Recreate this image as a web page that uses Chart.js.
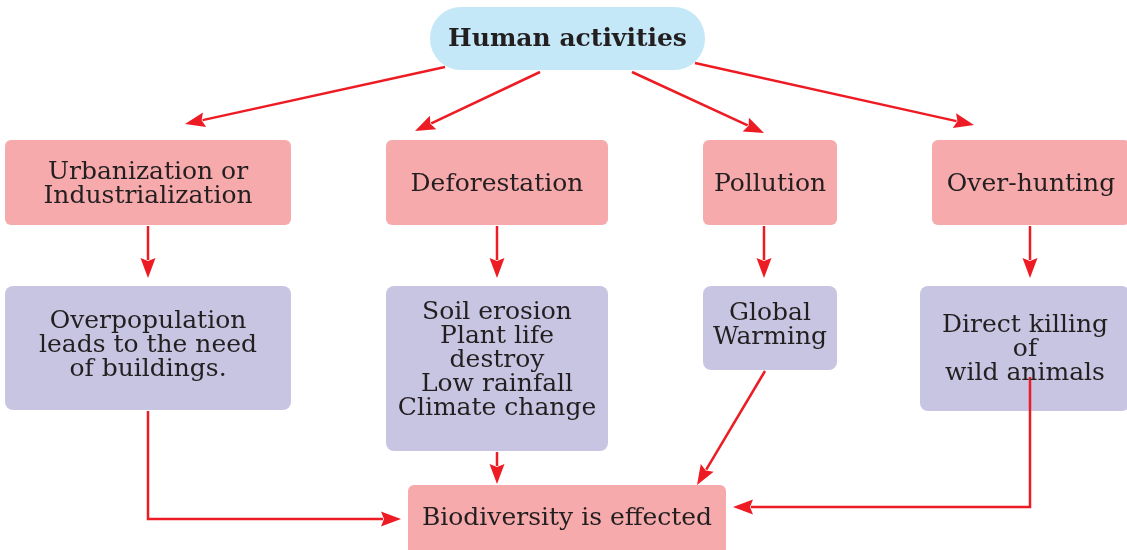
<!DOCTYPE html>
<html>
<head>
<meta charset="utf-8">
<script src="https://cdn.jsdelivr.net/npm/chart.js@4.4.1/dist/chart.umd.min.js"></script>
<style>
  html, body { margin: 0; padding: 0; background: #fff; }
  #wrap { width: 1127px; height: 550px; position: relative; }
</style>
</head>
<body>
<div id="wrap"><canvas id="flow"></canvas></div>
<script>
// Node texts (one entry per box, lines split by \n)
const rootLabel = 'Human activities';
const causeLabels = ['Urbanization or\nIndustrialization', 'Deforestation', 'Pollution', 'Over-hunting'];
const effectLabels = [
    'Overpopulation\nleads to the need\nof buildings.',
    'Soil erosion\nPlant life\ndestroy\nLow rainfall\nClimate change',
    'Global\nWarming',
    'Direct killing\nof\nwild animals'
];
const resultLabel = 'Biodiversity is effected';

// Layout in scale units (x: 0..1127, y: 0..550 top-down)
const causeBoxes = [[5, 140, 291, 225], [386, 140, 608, 225], [703, 140, 837, 225], [932, 140, 1130, 225]];
const effectBoxes = [[5, 286, 291, 410], [386, 286, 608, 451], [703, 286, 837, 370], [920, 286, 1130, 411]];
const rootBox = [430, 7, 705, 70];
const resultBox = [408, 485, 726, 555];

// Arrows as polylines, last segment gets the head
const arrows = [
    [[445, 67], [185, 124]],
    [[540, 72], [415, 131]],
    [[632, 72], [764, 133]],
    [[695, 63], [974, 125]],
    [[148, 226], [148, 278]],
    [[497, 226], [497, 278]],
    [[764, 226], [764, 278]],
    [[1030, 226], [1030, 278]],
    [[497, 452], [497, 484]],
    [[765, 371], [697, 485]],
    [[148, 411], [148, 519], [401, 519]],
    [[1030, 377], [1030, 507], [733, 507]]
];

const pink = '#f6aaac';
const lilac = '#c8c5e2';
const sky = '#c5e8f8';
const red = '#ed1c24';
const ink = '#231f20';

const flowPlugin = {
    id: 'flow',
    afterDatasetsDraw(chart) {
        const ctx = chart.ctx;
        const sx = chart.scales.x, sy = chart.scales.y;
        const px = v => sx.getPixelForValue(v);
        const py = v => sy.getPixelForValue(v);

        function box(b, fill, radius) {
            const x0 = px(b[0]), y0 = py(b[1]), x1 = px(b[2]), y1 = py(b[3]);
            ctx.beginPath();
            ctx.roundRect(x0, y0, x1 - x0, y1 - y0, radius);
            ctx.fillStyle = fill;
            ctx.fill();
        }

        function label(b, text, font, lineH, dy) {
            const cx = (px(b[0]) + px(b[2])) / 2;
            const cy = (py(b[1]) + py(b[3])) / 2 + (dy || 0);
            const lines = text.split('\n');
            ctx.font = font;
            ctx.fillStyle = ink;
            ctx.textAlign = 'center';
            ctx.textBaseline = 'middle';
            lines.forEach((ln, i) => {
                ctx.fillText(ln, cx, cy + (i - (lines.length - 1) / 2) * lineH);
            });
        }

        function arrow(pts) {
            ctx.strokeStyle = red;
            ctx.fillStyle = red;
            ctx.lineWidth = 2.5;
            const p = pts.map(q => [px(q[0]), py(q[1])]);
            const a = p[p.length - 2], b = p[p.length - 1];
            const ang = Math.atan2(b[1] - a[1], b[0] - a[0]);
            const len = 20, half = 7.5;
            const bx = b[0] - Math.cos(ang) * (len - 2), by = b[1] - Math.sin(ang) * (len - 2);
            ctx.beginPath();
            ctx.moveTo(p[0][0], p[0][1]);
            for (let i = 1; i < p.length - 1; i++) ctx.lineTo(p[i][0], p[i][1]);
            ctx.lineTo(bx, by);
            ctx.stroke();
            // head
            const hx = b[0] - Math.cos(ang) * len, hy = b[1] - Math.sin(ang) * len;
            ctx.beginPath();
            ctx.moveTo(b[0], b[1]);
            ctx.lineTo(hx - Math.sin(ang) * half, hy + Math.cos(ang) * half);
            ctx.lineTo(b[0] - Math.cos(ang) * (len * 0.85), b[1] - Math.sin(ang) * (len * 0.85));
            ctx.lineTo(hx + Math.sin(ang) * half, hy - Math.cos(ang) * half);
            ctx.closePath();
            ctx.fill();
        }

        ctx.save();
        const serif = '"DejaVu Serif", "Liberation Serif", serif';
        box(rootBox, sky, 31);
        causeBoxes.forEach(b => box(b, pink, 6));
        effectBoxes.forEach(b => box(b, lilac, 8));
        box(resultBox, pink, 6);

        arrows.forEach(arrow);

        label(rootBox, rootLabel, 'bold 25px ' + serif, 24, 1);
        causeBoxes.forEach((b, i) => label(b, causeLabels[i], '25px ' + serif, 24, 2));
        label(effectBoxes[0], effectLabels[0], '25px ' + serif, 24, -3);
        label(effectBoxes[1], effectLabels[1], '25px ' + serif, 24, -8);
        label(effectBoxes[2], effectLabels[2], '25px ' + serif, 24, -3);
        label(effectBoxes[3], effectLabels[3], '25px ' + serif, 24, 1);
        label(resultBox, resultLabel, '25px ' + serif, 24, -2);
        ctx.restore();
    }
};

// Anchor points at the node centres so the scales carry the layout
const allBoxes = [rootBox].concat(causeBoxes, effectBoxes, [resultBox]);
const centres = allBoxes.map(b => ({ x: (b[0] + b[2]) / 2, y: (b[1] + b[3]) / 2 }));

new Chart(document.getElementById('flow').getContext('2d'), {
    type: 'scatter',
    data: {
        datasets: [{
            data: centres,
            pointRadius: 0,
            pointHoverRadius: 0
        }]
    },
    options: {
        responsive: true,
        maintainAspectRatio: false,
        animation: false,
        layout: { padding: 0 },
        plugins: { legend: { display: false }, tooltip: { enabled: false } },
        scales: {
            x: { type: 'linear', min: 0, max: 1127, display: false },
            y: { type: 'linear', min: 0, max: 550, reverse: true, display: false }
        }
    },
    plugins: [flowPlugin]
});
</script>
</body>
</html>
